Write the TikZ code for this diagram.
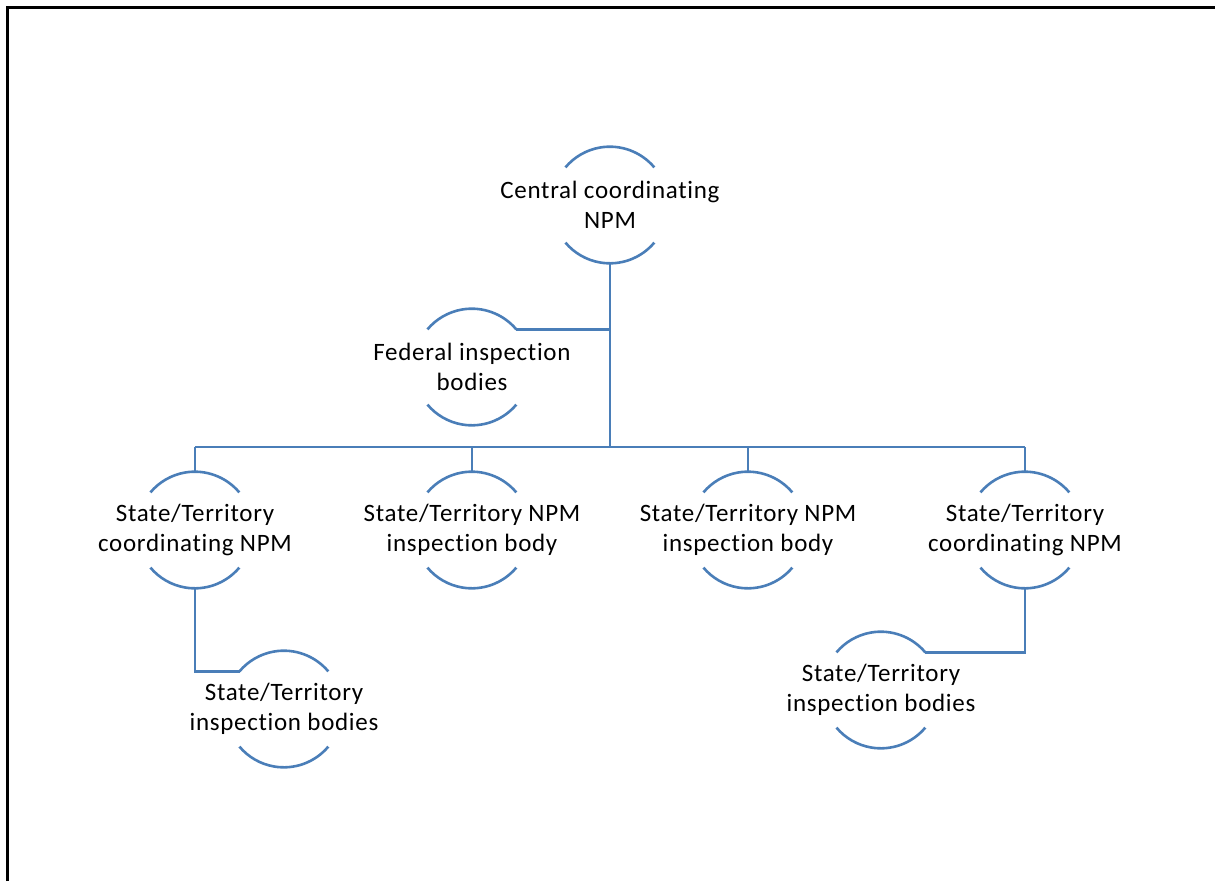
\documentclass[tikz,border=0pt]{standalone}
\usepackage{fontspec}
\setmainfont{Carlito}[Ligatures={NoCommon},LetterSpace=2.8]
\usetikzlibrary{calc}
\definecolor{lineblue}{RGB}{74,126,184}
\begin{document}
\begin{tikzpicture}[x=1pt,y=-1pt,
  txt/.style={align=center,font=\fontsize{25}{30.5}\selectfont,inner sep=0pt,text=black},
  conn/.style={draw=lineblue,line width=2.6pt},
  frame/.style={draw=black,line width=3pt}]
\useasboundingbox (0,0) rectangle (1215,881);
\newcommand{\bub}[3]{%
  \node[txt] (#1) at (#2) {#3};
  \coordinate (#1-t) at ($(#1.center)+(0,-58)$);
  \coordinate (#1-b) at ($(#1.center)+(0,58)$);
  \coordinate (#1-tl) at ($(#1.center)+(-44.3,-37.6)$);
  \coordinate (#1-tr) at ($(#1.center)+(44.3,-37.6)$);
  \coordinate (#1-br) at ($(#1.center)+(44.3,37.6)$);
  \draw[conn] (#1-tr) arc[start angle=320,end angle=220,radius=58];
  \draw[conn] (#1-br) arc[start angle=40,end angle=140,radius=58];
}
\draw[frame] (7,881) -- (7,7) -- (1215,7);
\bub{central}{610,205}{Central coordinating\\NPM}
\bub{fed}{472,367}{Federal inspection\\bodies}
\bub{sa}{195,530}{State/Territory\\coordinating NPM}
\bub{sb}{472,530}{State/Territory NPM\\inspection body}
\bub{sc}{748,530}{State/Territory NPM\\inspection body}
\bub{sd}{1025,530}{State/Territory\\coordinating NPM}
\bub{ia}{284,709}{State/Territory\\inspection bodies}
\bub{ib}{881,690}{State/Territory\\inspection bodies}
\coordinate (busL) at (195,447);
\coordinate (busR) at (1025,447);
\draw[conn] (busL) -- (busR);
\draw[conn] (central-b) -- (central-b |- busL);
\draw[conn] (fed-tr) -- (fed-tr -| central-b);
\draw[conn] (sa-t |- busL) -- (sa-t);
\draw[conn] (sb-t |- busL) -- (sb-t);
\draw[conn] (sc-t |- busL) -- (sc-t);
\draw[conn] (sd-t |- busL) -- (sd-t);
\draw[conn] (sa-b) |- (ia-tl);
\draw[conn] (sd-b) |- (ib-tr);
\end{tikzpicture}
\end{document}
